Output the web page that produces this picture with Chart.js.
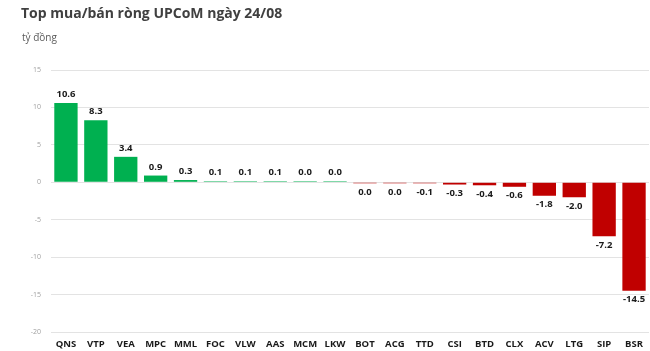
<!DOCTYPE html>
<html><head><meta charset="utf-8">
<script src="https://cdn.jsdelivr.net/npm/chart.js@4/dist/chart.umd.min.js"></script>
<style>html,body{margin:0;padding:0;background:#fff}#wrap{width:650px;height:351px}</style>
</head><body><div id="wrap"><canvas id="c" width="650" height="351"></canvas></div>
<script>
const categories = ["QNS","VTP","VEA","MPC","MML","FOC","VLW","AAS","MCM","LKW","BOT","ACG","TTD","CSI","BTD","CLX","ACV","LTG","SIP","BSR"];
const values = [10.6, 8.3, 3.4, 0.9, 0.3, 0.1, 0.1, 0.1, 0.04, 0.04, -0.04, -0.04, -0.1, -0.3, -0.4, -0.6, -1.8, -2.0, -7.2, -14.5];
const yTicks = [15, 10, 5, 0, -5, -10, -15, -20];
const titleText = "Top mua/bán ròng UPCoM ngày 24/08";
const unitText = "tỷ đồng";

const fmt = v => { const s = v.toFixed(1); return (s === "-0.0") ? "0.0" : s; };

const headerPlugin = {
  id: 'header',
  afterDraw(chart) {
    const ctx = chart.ctx;
    ctx.save();
    ctx.fillStyle = '#404040';
    ctx.font = 'bold 14px "Open Sans", "Liberation Sans", sans-serif';
    ctx.textBaseline = 'middle';
    ctx.textAlign = 'left';
    ctx.fillText(titleText, 21, 14);
    ctx.font = '10px "Open Sans", "Liberation Sans", sans-serif';
    ctx.fillStyle = '#595959';
    ctx.fillText(unitText, 22, 38);
    ctx.restore();
  }
};

const labelPlugin = {
  id: 'vlabels',
  afterDatasetsDraw(chart) {
    const ctx = chart.ctx;
    const meta = chart.getDatasetMeta(0);
    ctx.save();
    ctx.font = 'bold 9.5px "Open Sans", "Liberation Sans", sans-serif';
    ctx.fillStyle = '#1a1a1a';
    ctx.textAlign = 'center';
    meta.data.forEach((bar, i) => {
      const v = values[i];
      if (v >= 0) {
        ctx.textBaseline = 'bottom';
        ctx.fillText(fmt(v), bar.x, bar.y - 4);
      } else {
        ctx.textBaseline = 'top';
        ctx.fillText(fmt(v), bar.x, bar.y + 4);
      }
    });
    ctx.restore();
  }
};

new Chart(document.getElementById('c'), {
  type: 'bar',
  data: {
    labels: categories,
    datasets: [{
      data: values,
      backgroundColor: values.map(v => v >= 0 ? '#00B050' : '#C00000'),
      barPercentage: 0.78,
      categoryPercentage: 1.0,
      minBarLength: 1
    }]
  },
  options: {
    responsive: false,
    animation: false,
    devicePixelRatio: 1,
    layout: { padding: { top: 70, left: 0, right: 1, bottom: 0 } },
    plugins: { legend: { display: false }, tooltip: { enabled: false } },
    scales: {
      x: {
        grid: { display: false, drawTicks: false },
        border: { display: false },
        ticks: { color: '#1a1a1a', font: { family: '"Open Sans", "Liberation Sans", sans-serif', size: 9.5, weight: 'bold' }, padding: 7, maxRotation: 0, autoSkip: false },
        afterFit(s) { s.height = 19; }
      },
      y: {
        min: -20, max: 15,
        afterBuildTicks(s) { s.ticks = yTicks.map(v => ({ value: v })); },
        grid: { color: '#e3e3e3', lineWidth: 1, drawTicks: false },
        border: { display: false },
        ticks: { color: '#a0a0a0', font: { family: '"Open Sans", "Liberation Sans", sans-serif', size: 7 }, padding: 10 },
        afterFit(s) { s.width = 51; }
      }
    }
  },
  plugins: [headerPlugin, labelPlugin]
});
</script>
</body></html>
